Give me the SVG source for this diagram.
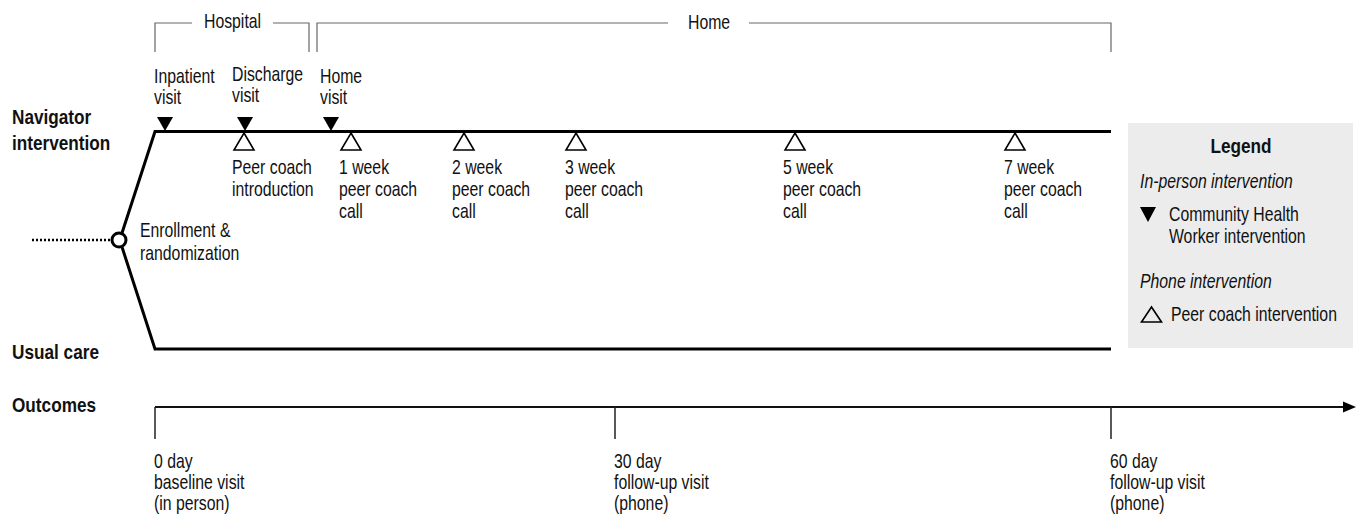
<svg xmlns="http://www.w3.org/2000/svg" width="1357" height="520" viewBox="0 0 1357 520">
<style>
text{font-family:"Liberation Sans",Arial,sans-serif;font-size:20px;fill:#111}
.b{font-weight:bold}
.i{font-style:italic}
.thick{stroke:#000;stroke-width:3;fill:none}
.br{stroke:#666;stroke-width:1.2;fill:none}
.ax{stroke:#111;stroke-width:2;fill:none}
.tk{stroke:#222;stroke-width:1.5;fill:none}
.ft{fill:#000}
.ot{fill:#fff;stroke:#000;stroke-width:1.6}
</style>
<defs>
<polygon id="down" points="-8,-14 8,-14 0,0"/>
<polygon id="up" points="0,0 10,17 -10,17"/>
</defs>
<rect width="1357" height="520" fill="#fff"/>

<g id="brackets">
<polyline class="br" points="155,52 155,23 192,23"/>
<polyline class="br" points="273,23 309,23 309,52"/>
<text transform="translate(204,28) scale(0.79,1)">Hospital</text>
<polyline class="br" points="317,52 317,23 668,23"/>
<polyline class="br" points="749,23 1111,23 1111,52"/>
<text transform="translate(688,29) scale(0.79,1)">Home</text>
</g>

<g id="row-labels">
<text class="b" transform="translate(12,124) scale(0.86,1)"><tspan x="0">Navigator</tspan><tspan x="0" dy="26">intervention</tspan></text>
<text class="b" transform="translate(12,359) scale(0.86,1)">Usual care</text>
<text class="b" transform="translate(12,412) scale(0.86,1)">Outcomes</text>
</g>

<g id="connectors">
<line x1="32" y1="240" x2="110" y2="240" stroke="#000" stroke-width="2.5" stroke-dasharray="2,2"/>
<polyline class="thick" points="122,233 155,131.5 1111,131.5"/>
<polyline class="thick" points="122,247 155,349 1111,349"/>
<line class="ax" x1="155" y1="407" x2="1346" y2="407"/>
<polygon points="1356,407 1343,401.5 1343,412.5" fill="#000"/>
</g>

<g id="enrollment">
<circle cx="119" cy="240" r="7" fill="#fff" stroke="#000" stroke-width="3"/>
<text transform="translate(140,237) scale(0.79,1)"><tspan x="0">Enrollment &amp;</tspan><tspan x="0" dy="23">randomization</tspan></text>
</g>

<g id="inpatient-visit">
<use href="#down" x="165" y="131" class="ft"/>
<text transform="translate(154,83) scale(0.79,1)"><tspan x="0">Inpatient</tspan><tspan x="0" dy="21">visit</tspan></text>
</g>
<g id="discharge-visit">
<use href="#down" x="245" y="131" class="ft"/>
<text transform="translate(232,81) scale(0.79,1)"><tspan x="0">Discharge</tspan><tspan x="0" dy="21">visit</tspan></text>
</g>
<g id="home-visit">
<use href="#down" x="331" y="131" class="ft"/>
<text transform="translate(320,83) scale(0.79,1)"><tspan x="0">Home</tspan><tspan x="0" dy="21">visit</tspan></text>
</g>

<g id="peer-coach-intro">
<use href="#up" x="244" y="133" class="ot"/>
<text transform="translate(232,174) scale(0.79,1)"><tspan x="0">Peer coach</tspan><tspan x="0" dy="22">introduction</tspan></text>
</g>
<g id="week1">
<use href="#up" x="351" y="133" class="ot"/>
<text transform="translate(339,174) scale(0.79,1)"><tspan x="0">1 week</tspan><tspan x="0" dy="22">peer coach</tspan><tspan x="0" dy="22">call</tspan></text>
</g>
<g id="week2">
<use href="#up" x="464" y="133" class="ot"/>
<text transform="translate(452,174) scale(0.79,1)"><tspan x="0">2 week</tspan><tspan x="0" dy="22">peer coach</tspan><tspan x="0" dy="22">call</tspan></text>
</g>
<g id="week3">
<use href="#up" x="576" y="133" class="ot"/>
<text transform="translate(565,174) scale(0.79,1)"><tspan x="0">3 week</tspan><tspan x="0" dy="22">peer coach</tspan><tspan x="0" dy="22">call</tspan></text>
</g>
<g id="week5">
<use href="#up" x="795" y="133" class="ot"/>
<text transform="translate(783,174) scale(0.79,1)"><tspan x="0">5 week</tspan><tspan x="0" dy="22">peer coach</tspan><tspan x="0" dy="22">call</tspan></text>
</g>
<g id="week7">
<use href="#up" x="1015" y="133" class="ot"/>
<text transform="translate(1004,174) scale(0.79,1)"><tspan x="0">7 week</tspan><tspan x="0" dy="22">peer coach</tspan><tspan x="0" dy="22">call</tspan></text>
</g>

<g id="outcome-0">
<line class="tk" x1="155" y1="407" x2="155" y2="439"/>
<text transform="translate(154,468) scale(0.79,1)"><tspan x="0">0 day</tspan><tspan x="0" dy="21">baseline visit</tspan><tspan x="0" dy="21">(in person)</tspan></text>
</g>
<g id="outcome-30">
<line class="tk" x1="615" y1="407" x2="615" y2="439"/>
<text transform="translate(614,468) scale(0.79,1)"><tspan x="0">30 day</tspan><tspan x="0" dy="21">follow-up visit</tspan><tspan x="0" dy="21">(phone)</tspan></text>
</g>
<g id="outcome-60">
<line class="tk" x1="1111" y1="407" x2="1111" y2="439"/>
<text transform="translate(1110,468) scale(0.79,1)"><tspan x="0">60 day</tspan><tspan x="0" dy="21">follow-up visit</tspan><tspan x="0" dy="21">(phone)</tspan></text>
</g>

<g id="legend">
<rect x="1128" y="123" width="225" height="225" fill="#ececec"/>
<text class="b" text-anchor="middle" transform="translate(1241,153) scale(0.86,1)">Legend</text>
<text class="i" transform="translate(1140,188) scale(0.79,1)">In-person intervention</text>
<polygon points="1140,207 1156,207 1148,222" fill="#000"/>
<text transform="translate(1169,221) scale(0.79,1)"><tspan x="0">Community Health</tspan><tspan x="0" dy="22">Worker intervention</tspan></text>
<text class="i" transform="translate(1140,288) scale(0.79,1)">Phone intervention</text>
<polygon points="1151.5,307 1161.5,322 1141.5,322" fill="none" stroke="#000" stroke-width="1.6"/>
<text transform="translate(1171,321) scale(0.79,1)">Peer coach intervention</text>
</g>
</svg>
